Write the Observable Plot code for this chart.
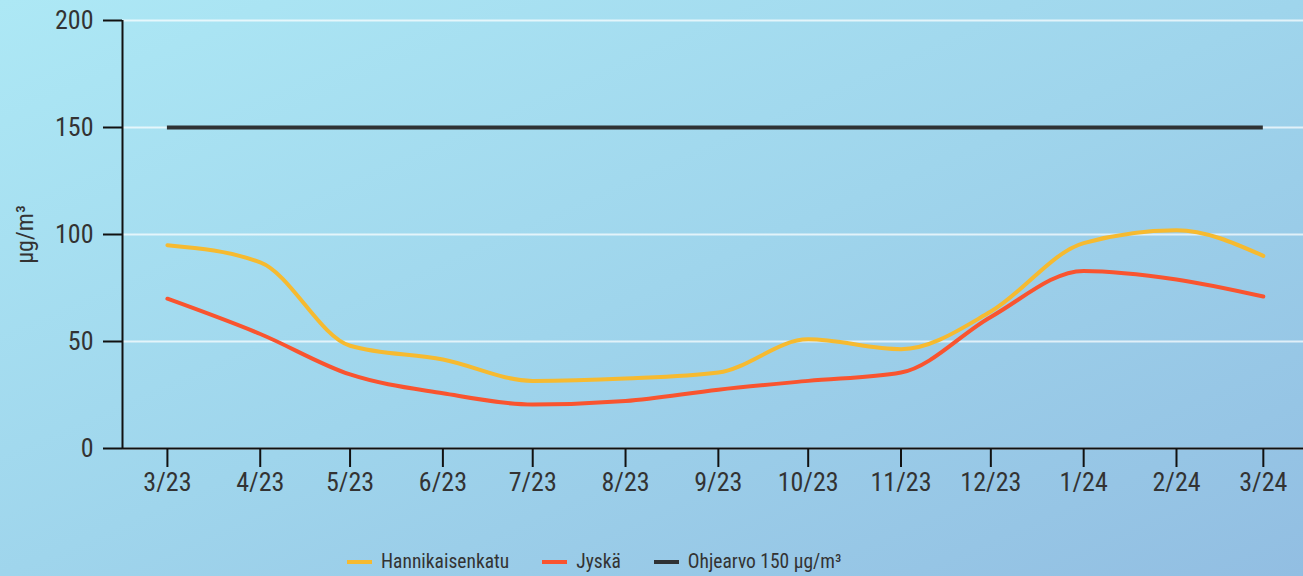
<!DOCTYPE html>
<html>
<head>
<meta charset="utf-8">
<script src="https://cdn.jsdelivr.net/npm/d3@7"></script>
<script src="https://cdn.jsdelivr.net/npm/@observablehq/plot@0.6"></script>
<style>
  html, body { margin: 0; padding: 0; }
  body {
    position: relative;
    width: 1303px; height: 576px; overflow: hidden;
    background: linear-gradient(to bottom right, #ade8f5 0%, #9fd5ec 50%, #92bee2 100%);
    font-family: "Roboto Condensed", "Liberation Sans Narrow", "DejaVu Sans Condensed", Roboto, sans-serif;
  }
  #chart svg { display: block; background: transparent; }
  #legend {
    position: absolute; left: 347px; top: 549px; height: 26px;
    display: flex; align-items: center; gap: 33px;
    font-size: 19.5px; color: #333; line-height: 26px;
  }
  #legend .item { display: flex; align-items: center; gap: 9px; }
  #legend .sw { width: 25px; height: 4px; }
</style>
</head>
<body>
<div id="chart"></div>
<div id="legend"></div>
<script>
// Months (first day of each month)
const months = ["2023-03","2023-04","2023-05","2023-06","2023-07","2023-08","2023-09","2023-10","2023-11","2023-12","2024-01","2024-02","2024-03"];
// Hannikaisenkatu (µg/m³)
const hannikaisenkatu = [95, 87, 48, 41.6, 31.6, 32.7, 35.5, 51, 46.4, 64, 96, 102, 90];
// Jyskä (µg/m³)
const jyska = [70, 53.5, 34.6, 25.8, 20.6, 22.2, 27.5, 31.6, 35.5, 61.5, 83, 79, 71];
// Guideline
const guideline = 150;
const seriesNames = ["Hannikaisenkatu", "Jyskä", "Ohjearvo 150 µg/m³"];
const colors = ["#f6ba30", "#f9542f", "#2f3234"];
const yTicks = [0, 50, 100, 150, 200];
const xDomain = ["2023-02-14", "2024-03-14T10:00"];
const yLabel = "µg/m³";

const dates = months.map(m => new Date(m + "-01T00:00:00Z"));
const rows = [];
dates.forEach((d, i) => {
  rows.push({date: d, value: hannikaisenkatu[i], series: seriesNames[0]});
  rows.push({date: d, value: jyska[i], series: seriesNames[1]});
});

const font = "\"Roboto Condensed\", \"Liberation Sans Narrow\", \"DejaVu Sans Condensed\", Roboto, sans-serif";

const chart = Plot.plot({
  width: 1303,
  height: 510,
  marginTop: 20,
  marginBottom: 62,
  marginLeft: 122,
  marginRight: 0,
  style: {fontFamily: font, fontSize: "26px", color: "#333", background: "transparent", overflow: "visible"},
  x: {type: "utc", domain: xDomain.map(s => new Date(s + "Z"))},
  y: {domain: [0, 200]},
  marks: [
    Plot.gridY(yTicks, {stroke: "#ffffff", strokeOpacity: 0.7, strokeWidth: 2}),
    Plot.axisY(yTicks, {tickSize: 19, tickPadding: 10, stroke: "#111", strokeWidth: 2, fill: "#333", label: null}),
    Plot.axisX(dates, {tickSize: 19, tickPadding: 5, stroke: "#111", strokeWidth: 2, fill: "#333", label: null, tickFormat: d3.utcFormat("%-m/%y")}),
    Plot.ruleX([new Date(xDomain[0] + "Z")], {stroke: "#111", strokeWidth: 2}),
    Plot.ruleY([0], {stroke: "#111", strokeWidth: 2}),
    Plot.ruleY([guideline], {x1: dates[0], x2: dates[dates.length - 1], stroke: colors[2], strokeWidth: 4}),
    Plot.lineY(rows, {x: "date", y: "value", z: "series", stroke: d => d.series === seriesNames[0] ? colors[0] : colors[1], strokeWidth: 4, curve: "monotone-x"}),
    Plot.text([yLabel], {frameAnchor: "left", textAnchor: "middle", lineAnchor: "middle", dx: -97, rotate: -90, fontSize: 24, fill: "#333", y: 100})
  ]
});
document.getElementById("chart").appendChild(chart);

const legend = document.getElementById("legend");
seriesNames.forEach((name, i) => {
  const it = document.createElement("div");
  it.className = "item";
  const sw = document.createElement("div");
  sw.className = "sw";
  sw.style.background = colors[i];
  const t = document.createElement("span");
  t.textContent = name;
  it.appendChild(sw); it.appendChild(t);
  legend.appendChild(it);
});
</script>
</body>
</html>
